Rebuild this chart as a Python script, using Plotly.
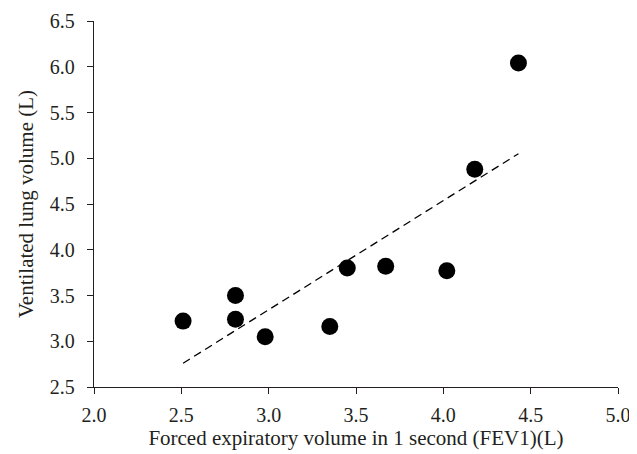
import plotly.graph_objects as go

fev1 = [2.51, 2.81, 2.81, 2.98, 3.35, 3.45, 3.67, 4.02, 4.18, 4.43]
vlv = [3.22, 3.50, 3.24, 3.05, 3.16, 3.80, 3.82, 3.77, 4.88, 6.04]
trend_x = [2.51, 4.43]
trend_y = [2.76, 5.05]
x_ticks = [2.0, 2.5, 3.0, 3.5, 4.0, 4.5, 5.0]
y_ticks = [2.5, 3.0, 3.5, 4.0, 4.5, 5.0, 5.5, 6.0, 6.5]

tick_font = dict(family="Liberation Serif, Times New Roman, serif", size=20, color="#231f20")
title_font = dict(family="Liberation Serif, Times New Roman, serif", size=21, color="#231f20")

fig = go.Figure()
fig.add_trace(go.Scatter(x=trend_x, y=trend_y, mode="lines",
                         line=dict(color="black", width=1.3, dash="8px,5px"),
                         showlegend=False))
fig.add_trace(go.Scatter(x=fev1, y=vlv, mode="markers",
                         marker=dict(color="black", size=17),
                         showlegend=False))

axis_common = dict(showline=True, linecolor="#231f20", linewidth=1.3,
                   ticks="outside", ticklen=6, tickwidth=1.3, tickcolor="#231f20",
                   showgrid=False, zeroline=False, tickfont=tick_font)

fig.update_layout(
    width=637, height=454,
    margin=dict(l=86, r=27, t=13, b=75),
    paper_bgcolor="white", plot_bgcolor="white",
    font=tick_font,
    xaxis=dict(range=[2.0, 5.0], tickvals=x_ticks, ticktext=[f"{v:.1f}" for v in x_ticks],
               ticklabelstandoff=4,
               title=dict(text="Forced expiratory volume in 1 second (FEV1)(L)", font=title_font, standoff=4),
               automargin=False, **axis_common),
    yaxis=dict(range=[2.5, 6.5], tickvals=y_ticks, ticktext=[f"{v:.1f}" for v in y_ticks],
               ticklabelstandoff=8,
               title=dict(text="Ventilated lung volume (L)", font=title_font, standoff=10),
               automargin=False, **axis_common),
)
fig.write_html("out.html")
